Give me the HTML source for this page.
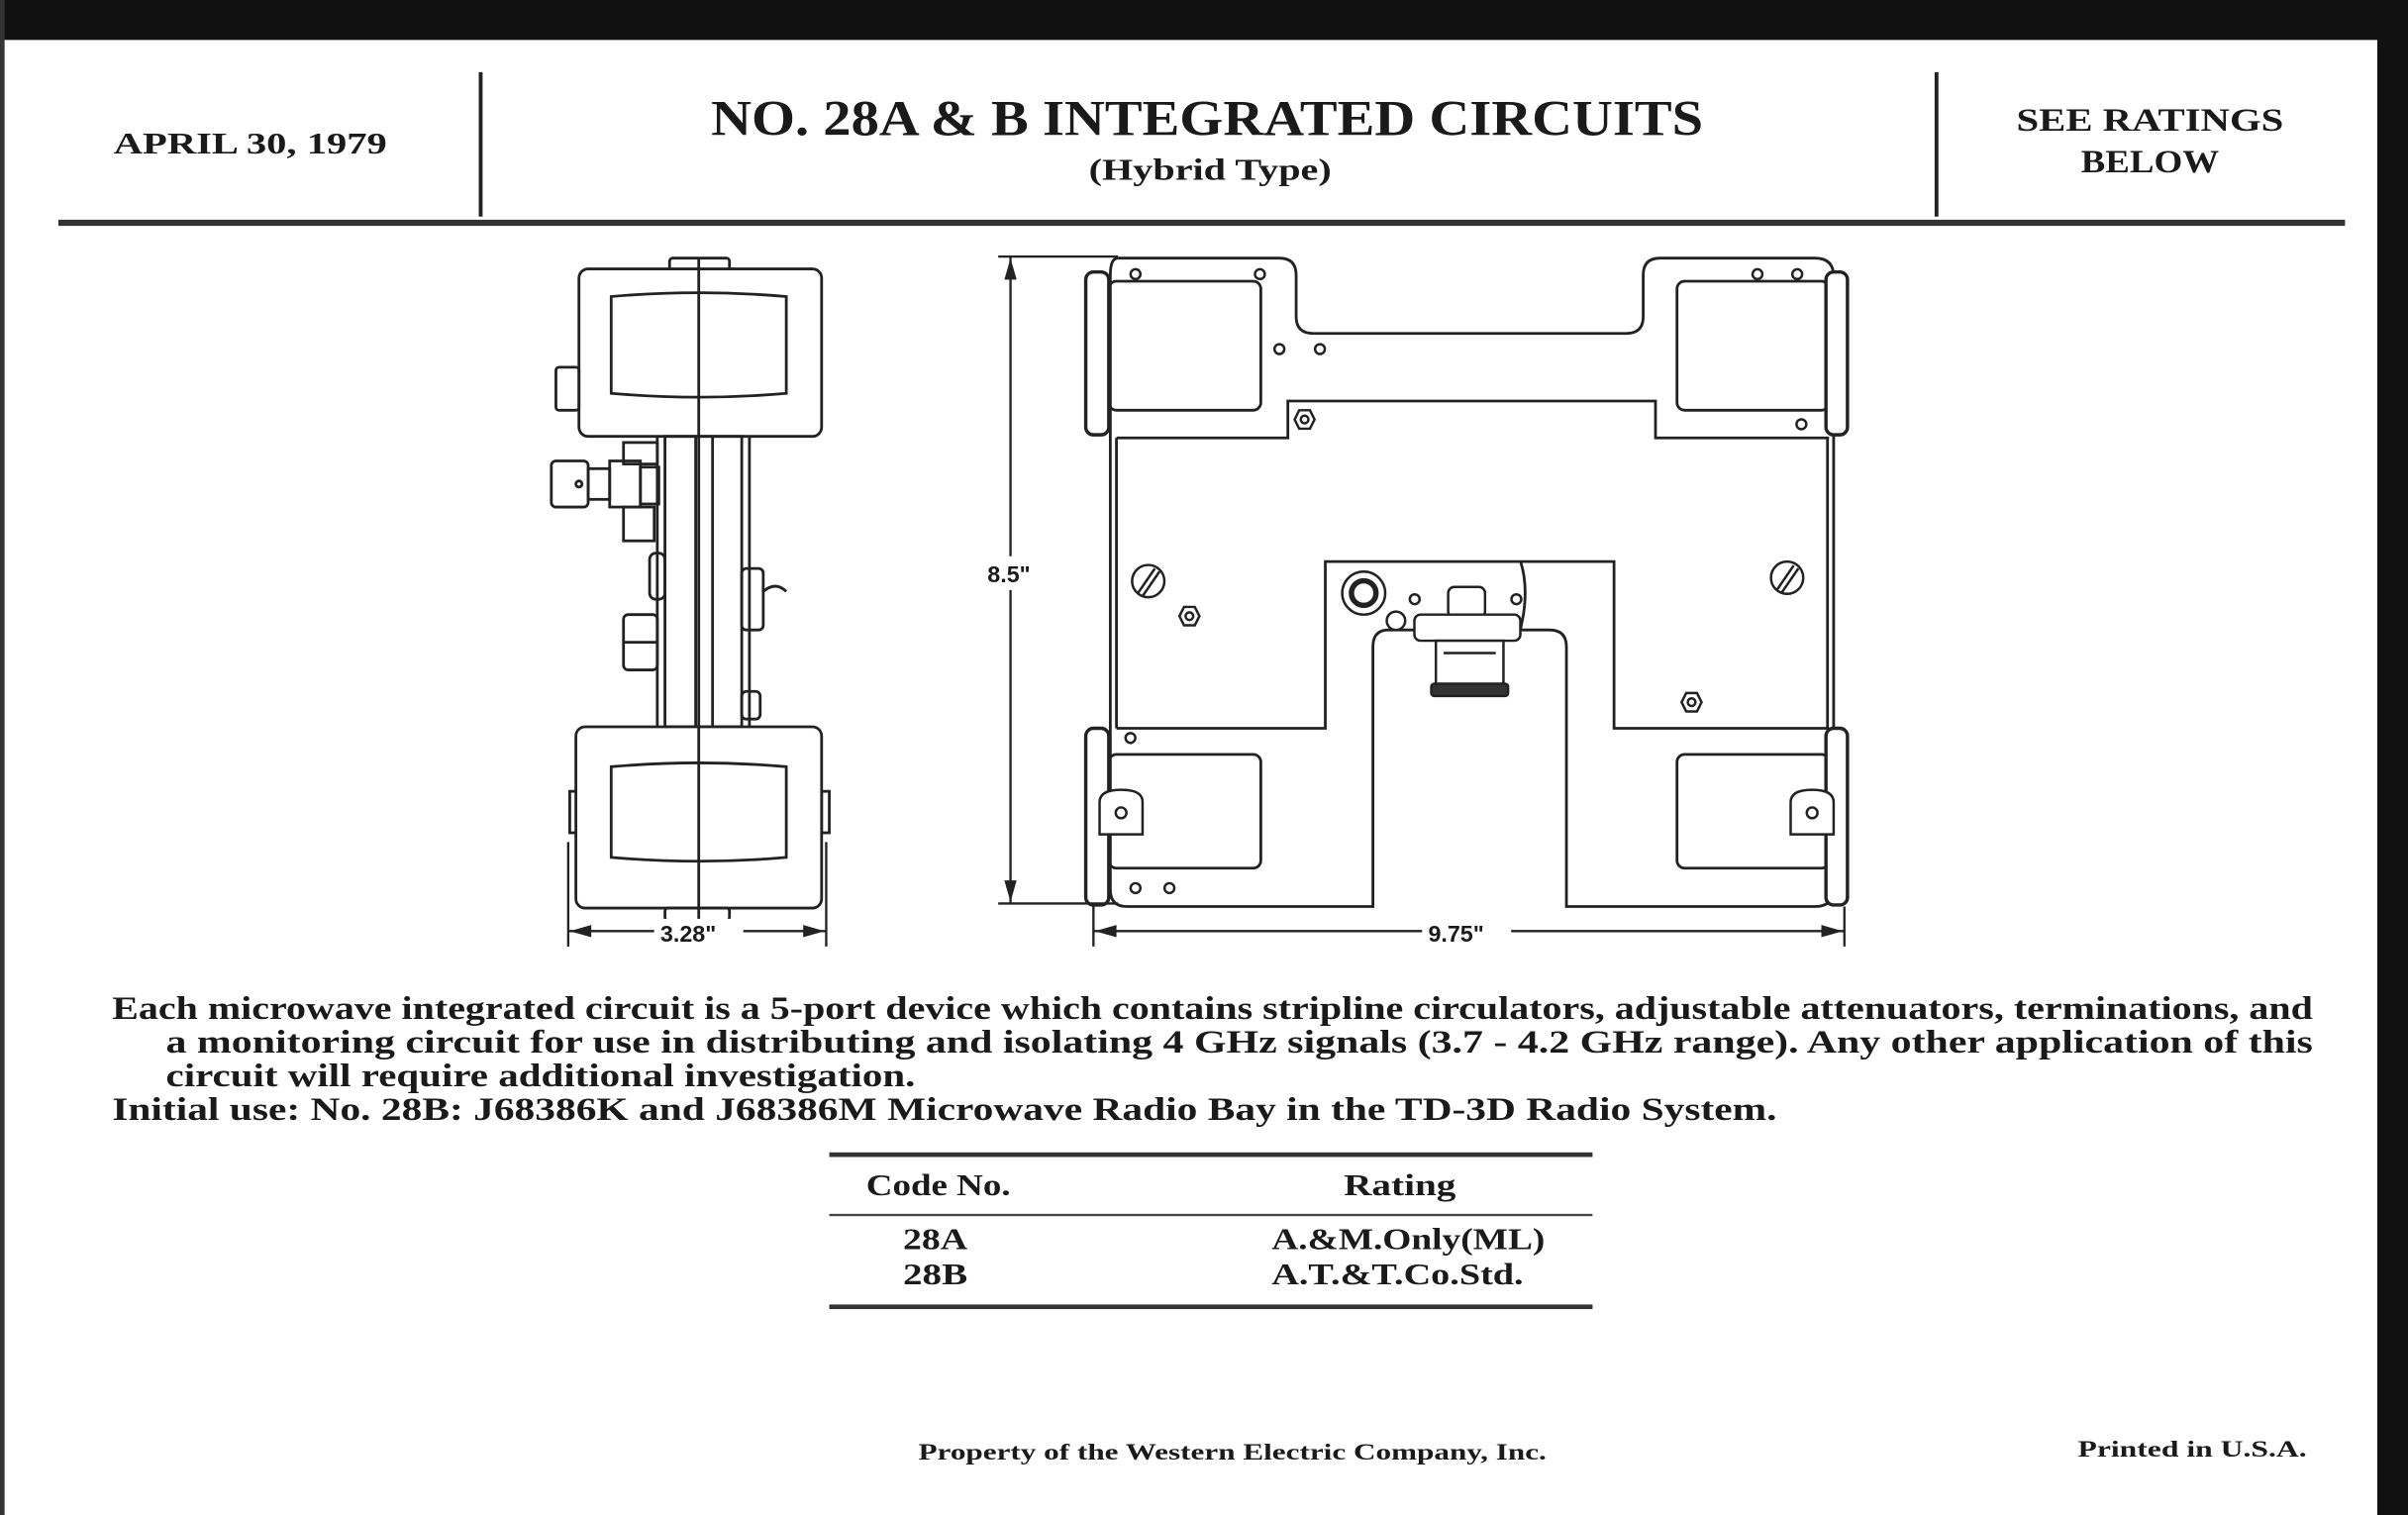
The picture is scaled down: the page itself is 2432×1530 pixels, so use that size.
<!DOCTYPE html>
<html><head><meta charset="utf-8"><style>
html,body{margin:0;padding:0;background:#fff;}
svg{display:block;}
text{font-family:"Liberation Serif",serif;font-weight:bold;fill:#1a1a1a;}
.d{font-family:"Liberation Sans",sans-serif;}
</style></head><body>
<svg width="2432" height="1530" viewBox="0 0 1568 986" preserveAspectRatio="none" xmlns="http://www.w3.org/2000/svg">
<rect x="0" y="0" width="1568" height="986" fill="#fff"/>
<rect x="0" y="0" width="1568" height="26" fill="#111"/>
<rect x="1548" y="0" width="20" height="986" fill="#111"/>
<rect x="0" y="0" width="3" height="986" fill="#333"/>

<text x="74" y="100" font-size="20" textLength="178" lengthAdjust="spacingAndGlyphs">APRIL 30, 1979</text>
<line x1="313" y1="47" x2="313" y2="141" stroke="#222" stroke-width="2.5"/>
<line x1="1261" y1="47" x2="1261" y2="141" stroke="#222" stroke-width="2.5"/>
<text x="463" y="88" font-size="33" textLength="646" lengthAdjust="spacingAndGlyphs">NO. 28A &amp; B INTEGRATED CIRCUITS</text>
<text x="709" y="117" font-size="20" textLength="158" lengthAdjust="spacingAndGlyphs">(Hybrid Type)</text>
<text x="1313" y="85" font-size="21" textLength="174" lengthAdjust="spacingAndGlyphs">SEE RATINGS</text>
<text x="1355" y="112" font-size="21" textLength="90" lengthAdjust="spacingAndGlyphs">BELOW</text>
<rect x="38" y="143" width="1489" height="4" fill="#333"/>

<g fill="none" stroke="#222" stroke-width="1.8">
<rect x="436" y="168" width="39" height="10" rx="2"/>
<rect x="377" y="175" width="158" height="109" rx="6" fill="#fff"/>
<path d="M398 193 Q455 188 512 193 V256 Q455 261 398 256 Z"/>
<rect x="362" y="239" width="15" height="28" rx="2"/>
<rect x="433" y="284" width="50" height="189"/>
<line x1="453" y1="284" x2="453" y2="473"/>
<line x1="464" y1="284" x2="464" y2="473"/>
<line x1="428" y1="284" x2="428" y2="473"/>
<line x1="488" y1="284" x2="488" y2="473"/>
<rect x="359" y="300" width="24" height="30" rx="3"/>
<circle cx="377" cy="315" r="2"/>
<rect x="383" y="305" width="14" height="20"/>
<rect x="397" y="300" width="20" height="30"/>
<rect x="406" y="288" width="22" height="14"/>
<rect x="406" y="330" width="20" height="22"/>
<rect x="417" y="304" width="12" height="24"/>
<rect x="406" y="400" width="22" height="36" rx="3"/>
<line x1="406" y1="418" x2="428" y2="418"/>
<rect x="423" y="360" width="10" height="30" rx="4"/>
<rect x="483" y="370" width="14" height="40" rx="3"/>
<path d="M497 385 Q505 378 512 385"/>
<rect x="483" y="450" width="12" height="18" rx="3"/>
<rect x="371" y="515" width="5" height="27"/>
<rect x="535" y="515" width="5" height="27"/>
<rect x="375" y="473" width="160" height="118" rx="6" fill="#fff"/>
<path d="M398 499 Q455 494 512 499 V558 Q455 563 398 558 Z"/>
<rect x="433" y="591" width="42" height="8" rx="2"/>
<line x1="455" y1="168" x2="455" y2="599"/>

<path d="M728 168 H833 Q844 168 844 179 V206 Q844 217 855 217 H1059 Q1070 217 1070 206 V179 Q1070 168 1081 168 H1182 Q1194 168 1194 180 V578 Q1194 590 1182 590 H1020 V421 Q1020 410 1009 410 H990"/>
<path d="M921 410 H904 Q894 410 894 421 V590 H734 Q723 590 723 579 V179 Q723 168 728 168"/>
<path d="M727 285 H838.6 V261 H1078 V285 H1191"/>
<path d="M727 474 H863 V365.5 H1051 V474 H1191"/>
<line x1="727" y1="285" x2="727" y2="474"/>
<line x1="1190" y1="285" x2="1190" y2="474"/>
<rect x="722" y="183" width="99" height="84" rx="5"/>
<rect x="1092" y="183" width="99" height="84" rx="5"/>
<rect x="722" y="491" width="99" height="74" rx="5"/>
<rect x="1092" y="491" width="99" height="74" rx="5"/>
<path d="M990 365 Q995 380 992 400 Q990 410 990 410"/>
</g>
<g fill="#fff" stroke="#222" stroke-width="2.2">
<rect x="707" y="177" width="15" height="106" rx="5"/>
<rect x="707" y="474" width="15" height="115" rx="5"/>
<rect x="1189" y="177" width="14" height="106" rx="5"/>
<rect x="1189" y="474" width="14" height="115" rx="5"/>
</g>
<g fill="#fff" stroke="#222" stroke-width="1.6">
<circle cx="739.4" cy="178.4" r="3.2"/><circle cx="820.4" cy="178.4" r="3.2"/>
<circle cx="1144.4" cy="178.4" r="3.2"/><circle cx="1170.3" cy="178.4" r="3.2"/>
<circle cx="833.1" cy="227.2" r="3.2"/><circle cx="859.5" cy="227.2" r="3.2"/>
<circle cx="1173" cy="276.1" r="3.2"/><circle cx="736.1" cy="480.3" r="3.2"/>
<circle cx="739.4" cy="578" r="3.2"/><circle cx="761.5" cy="578" r="3.2"/>
<circle cx="921.2" cy="390" r="3.2"/><circle cx="987.4" cy="390" r="3.2"/>
<polygon points="843,273 846,267 853,267 856,273 853,279 846,279"/><circle cx="849.5" cy="273" r="2.5"/>
<polygon points="768,401 771,395 778,395 781,401 778,407 771,407"/><circle cx="774.5" cy="401" r="2.5"/>
<polygon points="1095,457 1098,451 1105,451 1108,457 1105,463 1098,463"/><circle cx="1101.5" cy="457" r="2.5"/>
<circle cx="747.7" cy="378.2" r="10.5"/><path d="M741 386 L752 370 M744 388 L755 372"/>
<circle cx="1163.7" cy="376" r="10.5"/><path d="M1157 384 L1168 368 M1160 386 L1171 370"/>
<path d="M716 543 V522 Q716 514 730 514 Q744 514 744 522 V543 Z"/><circle cx="730" cy="529" r="3.5"/>
<path d="M1166 543 V522 Q1166 514 1180 514 Q1194 514 1194 522 V543 Z"/><circle cx="1180" cy="529" r="3.5"/>
<circle cx="888" cy="386" r="14"/><circle cx="888" cy="386" r="8" stroke-width="3.5"/>
<circle cx="909" cy="404" r="6"/>
<rect x="943" y="382" width="24" height="20" rx="4"/>
<rect x="921" y="400" width="69" height="17" rx="4"/>
<rect x="935" y="417" width="44" height="30"/>
<line x1="940" y1="425" x2="974" y2="425"/>
<rect x="932" y="445" width="50" height="8" rx="2" fill="#333"/>
</g>

<g stroke="#222" stroke-width="1.5" fill="#222">
<line x1="650" y1="167" x2="728" y2="167"/>
<line x1="650" y1="588" x2="728" y2="588"/>
<line x1="658" y1="167" x2="658" y2="588"/>
<polygon points="658,168 654,182 662,182" stroke="none"/>
<polygon points="658,587 654,573 662,573" stroke="none"/>
<line x1="712" y1="590" x2="712" y2="616"/>
<line x1="1201" y1="590" x2="1201" y2="616"/>
<line x1="712" y1="606" x2="1201" y2="606"/>
<polygon points="713,606 727,602 727,610" stroke="none"/>
<polygon points="1200,606 1186,602 1186,610" stroke="none"/>
<line x1="370" y1="548" x2="370" y2="616"/>
<line x1="538" y1="548" x2="538" y2="616"/>
<line x1="370" y1="606" x2="538" y2="606"/>
<polygon points="371,606 385,602 385,610" stroke="none"/>
<polygon points="537,606 523,602 523,610" stroke="none"/>
</g>
<rect x="642" y="362" width="34" height="22" fill="#fff"/>
<text class="d" x="643" y="379" font-size="15">8.5"</text>
<rect x="426" y="598" width="58" height="18" fill="#fff"/>
<text class="d" x="430" y="613" font-size="15">3.28"</text>
<rect x="926" y="598" width="58" height="18" fill="#fff"/>
<text class="d" x="930" y="613" font-size="15">9.75"</text>

<text x="73" y="663" font-size="21" textLength="1433" lengthAdjust="spacingAndGlyphs">Each microwave integrated circuit is a 5-port device which contains stripline circulators, adjustable attenuators, terminations, and</text>
<text x="108" y="685" font-size="21" textLength="1398" lengthAdjust="spacingAndGlyphs">a monitoring circuit for use in distributing and isolating 4 GHz signals (3.7 - 4.2 GHz range).  Any other application of this</text>
<text x="108" y="707" font-size="21" textLength="488" lengthAdjust="spacingAndGlyphs">circuit will require additional investigation.</text>
<text x="73" y="729" font-size="21" textLength="1084" lengthAdjust="spacingAndGlyphs">Initial use:  No. 28B:  J68386K and J68386M Microwave Radio Bay in the TD-3D Radio System.</text>

<rect x="540" y="750" width="497" height="3" fill="#333"/>
<text x="564" y="778" font-size="20" textLength="94" lengthAdjust="spacingAndGlyphs">Code No.</text>
<text x="875" y="778" font-size="20" textLength="73" lengthAdjust="spacingAndGlyphs">Rating</text>
<rect x="540" y="790" width="497" height="1.5" fill="#444"/>
<text x="588" y="813" font-size="20" textLength="42" lengthAdjust="spacingAndGlyphs">28A</text>
<text x="828" y="813" font-size="20" textLength="178" lengthAdjust="spacingAndGlyphs">A.&amp;M.Only(ML)</text>
<text x="588" y="836" font-size="20" textLength="42" lengthAdjust="spacingAndGlyphs">28B</text>
<text x="828" y="836" font-size="20" textLength="164" lengthAdjust="spacingAndGlyphs">A.T.&amp;T.Co.Std.</text>
<rect x="540" y="849" width="497" height="3" fill="#333"/>

<text x="598" y="950" font-size="15" textLength="409" lengthAdjust="spacingAndGlyphs">Property of the Western Electric Company, Inc.</text>
<text x="1353" y="948" font-size="15" textLength="149" lengthAdjust="spacingAndGlyphs">Printed in U.S.A.</text>
</svg>
</body></html>
